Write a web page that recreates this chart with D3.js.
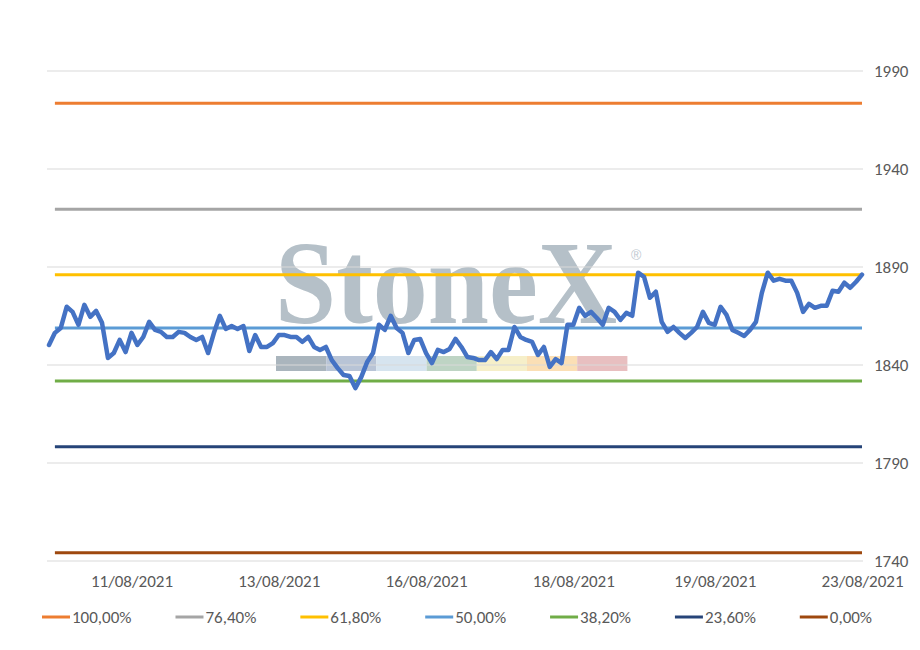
<!DOCTYPE html>
<html>
<head>
<meta charset="utf-8">
<script src="https://cdn.jsdelivr.net/npm/d3@7"></script>
<style>
  body { margin: 0; background: #fff; }
  text { font-family: Carlito, Calibri, Lato, sans-serif; fill: #595959; }
</style>
</head>
<body>
<div id="chart"></div>
<script>
// gold price (one value per sample)
const prices = [
  1850.2, 1856.4, 1858.9, 1869.7, 1867.1, 1860.5, 1870.7, 1864.6, 1867.6, 1861.5,
  1843.6, 1846.1, 1852.8, 1846.6, 1856.4, 1850.2, 1854.3, 1862.0, 1857.9, 1856.9,
  1854.3, 1854.3, 1856.9, 1856.4, 1854.3, 1852.8, 1854.3, 1846.1, 1856.4, 1865.1,
  1858.4, 1859.9, 1858.4, 1859.9, 1847.1, 1855.3, 1849.2, 1849.2, 1851.2,
  1855.3, 1855.3, 1854.3, 1854.3, 1851.8, 1854.3, 1849.2, 1847.7, 1849.2, 1842.5,
  1838.4, 1834.9, 1834.4, 1828.2, 1833.8, 1841.5, 1846.1, 1860.5, 1857.9, 1865.1,
  1858.9, 1856.4, 1846.1, 1852.8, 1853.3, 1846.1, 1841.0, 1847.7, 1846.6, 1848.2,
  1853.3, 1849.2, 1844.1, 1843.6, 1842.5, 1842.5, 1846.6, 1843.0, 1847.7,
  1847.7, 1859.4, 1854.3, 1852.8, 1851.8, 1845.1, 1849.2, 1839.0, 1843.0, 1841.0,
  1860.5, 1860.5, 1869.2, 1865.1, 1867.1, 1864.0, 1860.5, 1869.2, 1867.1, 1863.0,
  1866.6, 1865.1, 1887.1, 1885.0, 1874.3, 1877.4, 1862.0, 1856.9, 1859.4, 1856.4,
  1853.8, 1856.4, 1859.4,
  1867.1, 1861.5, 1860.5, 1869.7, 1865.6, 1857.9, 1856.4, 1854.8, 1857.9, 1862.0,
  1876.8, 1887.1, 1883.0, 1884.0, 1883.0, 1883.0, 1876.8, 1867.1, 1871.2, 1869.2,
  1870.2, 1870.2, 1877.9, 1877.4, 1882.0, 1879.4, 1882.5, 1886.1
];

// Fibonacci retracement levels
const fibLabels = ["100,00%", "76,40%", "61,80%", "50,00%", "38,20%", "23,60%", "0,00%"];
const fibValues = [1973.6, 1919.5, 1886.0, 1858.9, 1831.8, 1798.3, 1744.2];
const fibColors = ["#ED7D31", "#A5A5A5", "#FFC000", "#5B9BD5", "#70AD47", "#264478", "#9E480E"];

// category axis labels and the sample they sit under
const tickLabels = ["11/08/2021", "13/08/2021", "16/08/2021", "18/08/2021", "19/08/2021", "23/08/2021"];
const tickIdx = [14, 39, 64, 89, 113, 138];

const yTicks = [1740, 1790, 1840, 1890, 1940, 1990];

// watermark strip colours
const stripColors = ["#aab5bd", "#b8c4d6", "#d6e4ef", "#bed4c4", "#f6efc9", "#fbdfb5", "#e8bfc0"];

const width = 920, height = 650;
const plot = { left: 47, right: 863, top: 71, bottom: 561 };
const fontSize = "17px";

const svg = d3.select("#chart")
  .append("svg")
  .attr("width", width)
  .attr("height", height);

const x = d3.scaleLinear()
  .domain([0, prices.length - 1])
  .range([49, 862]);

const y = d3.scaleLinear()
  .domain([1740, 1990])
  .range([plot.bottom, plot.top]);

// watermark
const wm = svg.append("g");
wm.append("text")
  .attr("transform", "translate(275,323) scale(1,1.08)")
  .style("font-family", "'Liberation Serif', 'DejaVu Serif', serif")
  .style("font-weight", "bold")
  .style("font-size", "110px")
  .style("fill", "#b5c0c8")
  .text("StoneX");
wm.append("text")
  .attr("x", 631)
  .attr("y", 260)
  .style("font-family", "'Liberation Sans', sans-serif")
  .style("font-size", "14px")
  .style("fill", "#c0c8d0")
  .text("®");
wm.selectAll("rect")
  .data(stripColors)
  .join("rect")
  .attr("x", (d, i) => 276 + i * 50.2)
  .attr("y", 356)
  .attr("width", 50.2)
  .attr("height", 15)
  .attr("fill", d => d);

// gridlines
svg.append("g")
  .selectAll("line")
  .data(yTicks)
  .join("line")
  .attr("x1", plot.left)
  .attr("x2", plot.right)
  .attr("y1", d => y(d))
  .attr("y2", d => y(d))
  .attr("stroke", "#d9d9d9")
  .attr("stroke-width", 1);

// right value axis
const yAxis = svg.append("g")
  .attr("transform", `translate(${plot.right},0)`)
  .call(d3.axisRight(y).tickValues(yTicks).tickSize(0).tickPadding(11).tickFormat(d3.format("d")));
yAxis.select(".domain").remove();
yAxis.selectAll("text").style("font-size", fontSize).style("fill", "#595959");

// category axis
const xAxis = svg.append("g")
  .attr("transform", `translate(0,${plot.bottom})`)
  .call(d3.axisBottom(x).tickValues(tickIdx).tickSize(0).tickPadding(14).tickFormat((d, i) => tickLabels[i]));
xAxis.select(".domain").remove();
xAxis.selectAll("text").style("font-size", fontSize).style("fill", "#595959");

// fib levels (series start at the second sample)
const lastIdx = prices.length - 1;
svg.append("g")
  .selectAll("line")
  .data(fibValues)
  .join("line")
  .attr("x1", x(1))
  .attr("x2", x(lastIdx))
  .attr("y1", d => y(d))
  .attr("y2", d => y(d))
  .attr("stroke", (d, i) => fibColors[i])
  .attr("stroke-width", 3);

// price line
const line = d3.line()
  .x((d, i) => x(i))
  .y(d => y(d));

svg.append("path")
  .datum(prices)
  .attr("d", line)
  .attr("fill", "none")
  .attr("stroke", "#4472C4")
  .attr("stroke-width", 4.5)
  .attr("stroke-linejoin", "round")
  .attr("stroke-linecap", "round");

// legend
const legend = svg.append("g").attr("transform", "translate(0,617)");
let lx = 42;
fibLabels.forEach((lab, i) => {
  const g = legend.append("g").attr("transform", `translate(${lx},0)`);
  g.append("line")
    .attr("x1", 0).attr("x2", 28)
    .attr("y1", 0).attr("y2", 0)
    .attr("stroke", fibColors[i])
    .attr("stroke-width", 3);
  const t = g.append("text")
    .attr("x", 30)
    .attr("y", 6)
    .style("font-size", fontSize)
    .text(lab);
  lx += 30 + t.node().getComputedTextLength() + 44;
});
</script>
</body>
</html>
